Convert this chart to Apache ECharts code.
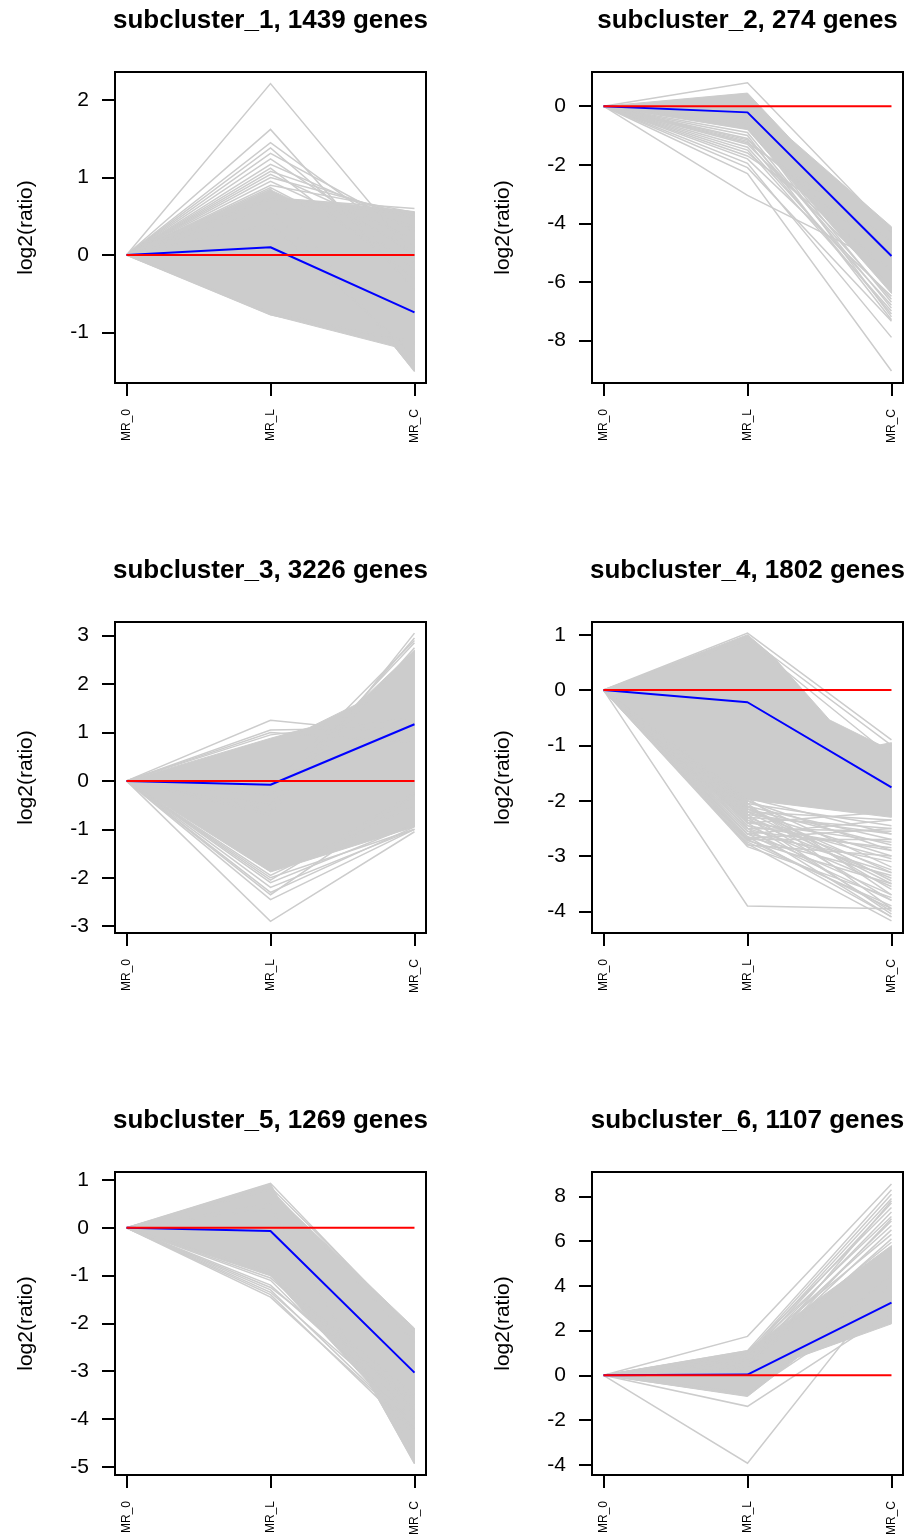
<!DOCTYPE html>
<html>
<head>
<meta charset="utf-8">
<script src="https://cdn.jsdelivr.net/npm/echarts@6/dist/echarts.min.js"></script>
<style>html,body{margin:0;padding:0;background:#fff}#c{width:916px;height:1538px}</style>
</head>
<body>
<div id="c"></div>
<script>
// ---------------- DATA ----------------
const conditions = ['MR_0', 'MR_L', 'MR_C'];
const titles = [
  'subcluster_1, 1439 genes', 'subcluster_2, 274 genes',
  'subcluster_3, 3226 genes', 'subcluster_4, 1802 genes',
  'subcluster_5, 1269 genes', 'subcluster_6, 1107 genes'
];
const yLabel = 'log2(ratio)';

// y tick labels per panel
const yTicks1 = [-1, 0, 1, 2];
const yTicks2 = [-8, -6, -4, -2, 0];
const yTicks3 = [-3, -2, -1, 0, 1, 2, 3];
const yTicks4 = [-4, -3, -2, -1, 0, 1];
const yTicks5 = [-5, -4, -3, -2, -1, 0, 1];
const yTicks6 = [-4, -2, 0, 2, 4, 6, 8];

// y ranges per panel (data range + R's 4% padding)
const yRange1 = [-1.65, 2.36];
const yRange2 = [-9.46, 1.17];
const yRange3 = [-3.14, 3.28];
const yRange4 = [-4.39, 1.23];
const yRange5 = [-5.17, 1.165];
const yRange6 = [-4.46, 9.09];

// reference line (log2 ratio = 0) at each condition
const zeroLine = [0, 0, 0];

// cluster means (blue) at MR_0, MR_L, MR_C
const mean1 = [0, 0.10, -0.74];
const mean2 = [0, -0.21, -5.12];
const mean3 = [0, -0.08, 1.17];
const mean4 = [0, -0.22, -1.76];
const mean5 = [0, -0.07, -3.03];
const mean6 = [0, 0.03, 3.25];

// dense core of overlapping gene profiles: outline as [condition position, log2 ratio]
const core1 = [[1,0],[2,0.84],[2.14,0.72],[2.5,0.66],[3,0.56],[3,-1.5],[2.86,-1.18],[2,-0.77]];
const core2 = [[1,0],[2,0.45],[2.3,-1.12],[3,-4.12],[3,-6.4],[2,-0.8]];
const core3 = [[1,0],[2,0.88],[2.27,1.1],[2.61,1.6],[3,2.7],[3,-0.95],[2,-1.88]];
const core4 = [[1,0],[2,1.0],[2.18,0.6],[2.57,-0.54],[2.92,-0.99],[3,-0.95],[3,-2.3],[2,-1.98],[2,-2.4]];
const core5 = [[1,0],[2,0.92],[2.06,0.59],[3,-2.1],[3,-4.93],[2.69,-3.27],[2,-1.0]];
const core6 = [[1,0],[2,1.1],[3,5.8],[3,2.3],[2.35,0.8],[2,-0.95]];

// individual visible gene profiles [MR_0, MR_L, MR_C]
const genes1 = [
  [0,2.21,-0.02],[0,1.62,-0.45],[0,1.45,0.1],[0,1.38,-0.2],[0,1.31,0.3],[0,1.24,0.0],
  [0,1.17,0.35],[0,1.12,-0.3],[0,1.08,0.45],[0,1.04,0.2],[0,1.0,0.5],[0,0.95,0.1],
  [0,0.9,0.55],[0,0.87,-0.1],[0,0.74,0.6],[0,0.72,0.52],[0,-0.77,-1.15],[0,-0.74,-1.12],
  [0,0.85,-1.5],[0,0.6,-1.42],[0,0.4,-1.3]
];
const genes2 = [
  [0,0.8,-4.3],[0,-0.9,-6.9],[0,-1.0,-7.3],[0,-1.1,-6.6],[0,-1.2,-7.1],[0,-1.3,-6.2],
  [0,-1.4,-6.8],[0,-1.5,-7.0],[0,-1.6,-5.6],[0,-1.8,-6.5],[0,-1.95,-7.9],[0,-2.3,-9.05],
  [0,-3.05,-5.5],[0,-0.7,-6.7],[0,-1.15,-5.2],[0,-1.25,-4.6],[0,-1.7,-4.9],[0,-2.1,-7.35],
  [0,-0.6,-7.2]
];
const genes3 = [
  [0,1.25,0.95],[0,1.05,1.1],[0,1.0,0.8],[0,0.95,1.3],[0,-0.7,3.05],[0,-0.5,2.95],
  [0,-0.3,2.85],[0,-0.6,2.75],[0,-0.1,2.9],[0,-2.0,-1.0],[0,-2.1,-0.9],[0,-2.2,-1.0],
  [0,-2.3,-0.95],[0,-2.45,-1.0],[0,-2.9,-1.05],[0,-2.35,-0.3],[0,-1.95,-0.5],[0,-2.05,-0.25]
];
const genes4 = [
  [0,-1.95,-2.6],[0,-2.0,-3.2],[0,-2.05,-2.45],[0,-2.1,-3.6],[0,-2.15,-2.8],[0,-2.2,-3.0],
  [0,-2.25,-3.8],[0,-2.3,-2.5],[0,-2.35,-3.4],[0,-2.4,-4.0],[0,-2.45,-2.9],[0,-2.5,-3.3],
  [0,-2.55,-3.7],[0,-2.6,-3.1],[0,-2.65,-4.1],[0,-2.7,-2.7],[0,-2.72,-3.5],[0,-2.75,-3.9],
  [0,-2.8,-3.0],[0,-2.83,-3.75],[0,-2.78,-4.17],[0,-2.6,-2.35],[0,-2.4,-2.2],[0,-2.2,-3.5],
  [0,-2.0,-2.9],[0,-1.95,-3.7],[0,-2.3,-4.05],[0,-2.5,-2.55],[0,-2.1,-2.7],[0,-2.15,-3.3],
  [0,-2.25,-2.6],[0,-2.35,-3.05],[0,-2.45,-3.55],[0,-2.55,-2.85],[0,-2.65,-3.35],[0,-2.7,-3.95],
  [0,-2.05,-3.95],[0,-2.3,-3.25],[0,-2.4,-2.75],[0,-2.6,-3.8],[0,-2.68,-2.5],[0,-2.5,-4.1],
  [0,-2.2,-2.35],[0,-2.1,-3.45],[0,-3.9,-3.95],[0,1.03,-0.9],[0,0.95,-1.0],[0,0.9,-1.2]
];
const genes5 = [
  [0,0.93,-2.2],[0,0.85,-2.15],[0,0.8,-2.4],[0,-0.9,-3.8],[0,-1.0,-3.5],[0,-1.1,-4.1],
  [0,-1.2,-3.9],[0,-1.3,-4.2],[0,-1.4,-4.3],[0,-1.45,-4.2],[0,-1.05,-3.7],[0,-1.25,-3.6],
  [0,-1.35,-4.0],[0,0.5,-4.93],[0,0.4,-4.7]
];
const genes6 = [
  [0,1.74,8.55],[0,1.1,8.3],[0,1.0,8.1],[0,0.9,7.9],[0,0.8,7.7],[0,1.05,7.5],
  [0,0.7,7.3],[0,0.95,7.1],[0,0.6,6.9],[0,0.85,6.7],[0,0.5,6.5],[0,1.0,6.3],
  [0,0.4,6.1],[0,0.75,5.95],[0,0.3,7.0],[0,0.2,7.8],[0,-1.39,2.8],[0,-3.93,4.2],
  [0,-0.9,4.5],[0,-0.8,3.5]
];

// ---------------- CHART ----------------
const FONT = '"Liberation Sans", Arial, Helvetica, sans-serif';
const GREY = '#cccccc';
const panels = [
  {title: titles[0], ticks: yTicks1, range: yRange1, mean: mean1, core: core1, genes: genes1},
  {title: titles[1], ticks: yTicks2, range: yRange2, mean: mean2, core: core2, genes: genes2},
  {title: titles[2], ticks: yTicks3, range: yRange3, mean: mean3, core: core3, genes: genes3},
  {title: titles[3], ticks: yTicks4, range: yRange4, mean: mean4, core: core4, genes: genes4},
  {title: titles[4], ticks: yTicks5, range: yRange5, mean: mean5, core: core5, genes: genes5},
  {title: titles[5], ticks: yTicks6, range: yRange6, mean: mean6, core: core6, genes: genes6}
];
const xPos = conditions.map((c, k) => k + 1);
const lefts = [115, 592];
const tops = [72, 622, 1172];
const W = 311, H = 311;

const option = {animation: false, backgroundColor: '#ffffff', title: [], grid: [], xAxis: [], yAxis: [], series: []};

panels.forEach((p, i) => {
  const left = lefts[i % 2], top = tops[Math.floor(i / 2)];
  option.title.push({
    text: p.title, left: left + W / 2, top: top - 64, textAlign: 'center', padding: 0,
    textStyle: {fontFamily: FONT, fontSize: 26, fontWeight: 'bold', color: '#000'}
  });
  option.grid.push({left: left, top: top, width: W, height: H, show: true,
    borderColor: '#000', borderWidth: 2, backgroundColor: '#fff'});
  const tickStyle = {color: '#000', width: 2};
  option.xAxis.push({
    type: 'value', gridIndex: i, min: 0.92, max: 3.08, position: 'bottom',
    axisLine: {show: false, onZero: false}, splitLine: {show: false},
    axisTick: {show: true, customValues: xPos, length: 13, lineStyle: tickStyle},
    axisLabel: {customValues: xPos, rotate: 90, margin: 26, fontSize: 12, fontFamily: FONT, color: '#000',
      formatter: v => conditions[Math.round(v) - 1]}
  });
  option.yAxis.push({
    type: 'value', gridIndex: i, min: p.range[0], max: p.range[1], position: 'left',
    name: yLabel, nameLocation: 'middle', nameGap: 78,
    nameTextStyle: {fontFamily: FONT, fontSize: 21, color: '#000'},
    axisLine: {show: false, onZero: false}, splitLine: {show: false},
    axisTick: {show: true, customValues: p.ticks, length: 13, lineStyle: tickStyle},
    axisLabel: {customValues: p.ticks, margin: 26, fontSize: 21, fontFamily: FONT, color: '#000'}
  });
  // dense core
  option.series.push({
    type: 'custom', xAxisIndex: i, yAxisIndex: i, data: p.core, silent: true, clip: true, z: 1,
    renderItem: (params, api) => {
      if (params.dataIndex !== 0) return null;
      const pts = p.core.map(pt => api.coord(pt));
      return {type: 'polygon', shape: {points: pts}, style: {fill: GREY, stroke: GREY, lineWidth: 1}};
    }
  });
  // individual gene profiles
  option.series.push({
    type: 'lines', coordinateSystem: 'cartesian2d', xAxisIndex: i, yAxisIndex: i,
    polyline: true, silent: true, z: 2,
    lineStyle: {color: GREY, width: 1.5, opacity: 1},
    data: p.genes.map(g => ({coords: g.map((v, k) => [xPos[k], v])}))
  });
  // mean profile
  option.series.push({
    type: 'line', xAxisIndex: i, yAxisIndex: i, symbol: 'none', silent: true, z: 3,
    lineStyle: {color: '#0000ff', width: 2},
    data: p.mean.map((v, k) => [xPos[k], v])
  });
  // zero line
  option.series.push({
    type: 'line', xAxisIndex: i, yAxisIndex: i, symbol: 'none', silent: true, z: 4,
    lineStyle: {color: '#ff0000', width: 2},
    data: zeroLine.map((v, k) => [xPos[k], v])
  });
});

const chart = echarts.init(document.getElementById('c'), null, {renderer: 'canvas'});
chart.setOption(option);
</script>
</body>
</html>
